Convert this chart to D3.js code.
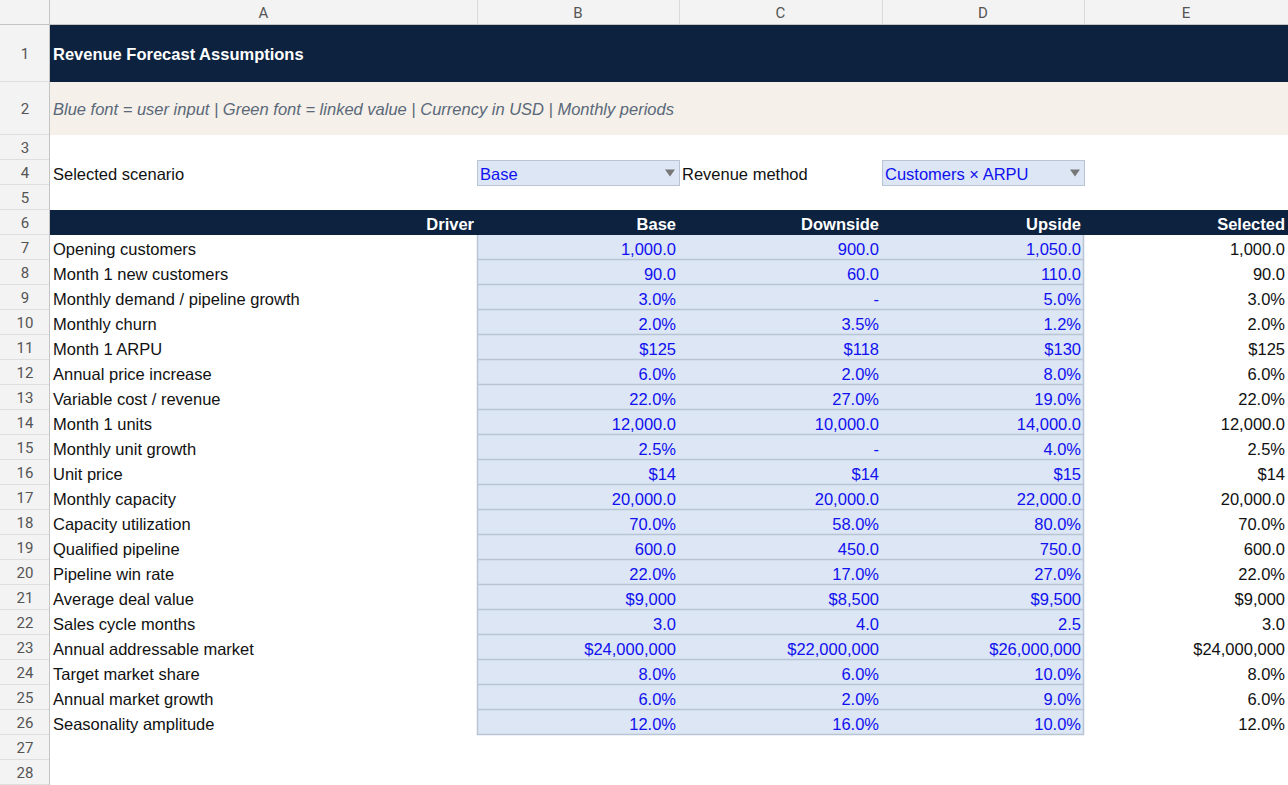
<!DOCTYPE html>
<html>
<head>
<meta charset="utf-8">
<script src="https://cdn.jsdelivr.net/npm/d3@7"></script>
<style>
  html, body { margin: 0; padding: 0; background: #fff; overflow: hidden; }
  svg { display: block; }
</style>
</head>
<body>
<div id="sheet"></div>
<script>
// sheet content
const title = 'Revenue Forecast Assumptions';
const note = 'Blue font = user input | Green font = linked value | Currency in USD | Monthly periods';
const colLetters = ['A', 'B', 'C', 'D', 'E'];
const scenarios = ['Base', 'Downside', 'Upside'];
const selectedScenario = 'Base';
const revenueMethod = 'Customers \u00d7 ARPU';

const drivers = [
  'Opening customers', 'Month 1 new customers', 'Monthly demand / pipeline growth', 'Monthly churn',
  'Month 1 ARPU', 'Annual price increase', 'Variable cost / revenue', 'Month 1 units',
  'Monthly unit growth', 'Unit price', 'Monthly capacity', 'Capacity utilization',
  'Qualified pipeline', 'Pipeline win rate', 'Average deal value', 'Sales cycle months',
  'Annual addressable market', 'Target market share', 'Annual market growth', 'Seasonality amplitude'
];
const formats = [
  'num', 'num', 'pct', 'pct', 'usd', 'pct', 'pct', 'num', 'pct', 'usd',
  'num', 'pct', 'num', 'pct', 'usd', 'num', 'usd', 'pct', 'pct', 'pct'
];
const baseVals = [1000, 90, 0.03, 0.02, 125, 0.06, 0.22, 12000, 0.025, 14,
  20000, 0.70, 600, 0.22, 9000, 3.0, 24000000, 0.08, 0.06, 0.12];
const downVals = [900, 60, 0, 0.035, 118, 0.02, 0.27, 10000, 0, 14,
  20000, 0.58, 450, 0.17, 8500, 4.0, 22000000, 0.06, 0.02, 0.16];
const upVals = [1050, 110, 0.05, 0.012, 130, 0.08, 0.19, 14000, 0.04, 15,
  22000, 0.80, 750, 0.27, 9500, 2.5, 26000000, 0.10, 0.09, 0.10];
const scenarioVals = { Base: baseVals, Downside: downVals, Upside: upVals };
const selectedVals = scenarioVals[selectedScenario];

// layout
const W = 1288, H = 785;
const colWidths = [50, 427, 202, 203, 202, 204];
const rowHeights = [25, 57, 53].concat(d3.range(26).map(() => 25));

const colEdges = d3.cumsum([0].concat(colWidths));
const rowEdges = d3.cumsum([0].concat(rowHeights));
const x0 = i => colEdges[i + 1];           // left edge of column i (0 = A)
const x1 = i => colEdges[i + 2];           // right edge
const y0 = r => rowEdges[r];               // top of sheet row r (1-based)
const yc = r => (rowEdges[r] + rowEdges[r + 1]) / 2;

const navy = '#0d223f';
const inputFill = '#dce6f4';
const inputLine = '#b9c5d5';
const blue = '#1010f0';
const font = '"Liberation Sans", Arial, sans-serif';
const fs = 16.5;
const dy = '0.45em';

const fmtNum = d3.format(',.1f');
const fmtPct = d3.format('.1%');
const fmtUsd = d3.format(',.0f');
const fmt = (v, f) => {
  if (v === 0) return '-';
  if (f === 'pct') return fmtPct(v);
  if (f === 'usd') return '$' + fmtUsd(v);
  return fmtNum(v);
};

const svg = d3.select('#sheet').append('svg')
  .attr('width', W)
  .attr('height', H)
  .attr('viewBox', [0, 0, W, H]);

// data rows scale (rows 7..26)
const yRow = d3.scaleBand()
  .domain(drivers)
  .range([y0(7), y0(27)]);

// column header strip
svg.append('rect').attr('x', 0).attr('y', 0).attr('width', W).attr('height', 25).attr('fill', '#f3f3f3');
svg.append('rect').attr('x', 0).attr('y', 0).attr('width', 50).attr('height', H).attr('fill', '#f3f3f3');

svg.append('g')
  .selectAll('line')
  .data(d3.range(colLetters.length))
  .join('line')
  .attr('x1', i => x1(i) + 0.5).attr('x2', i => x1(i) + 0.5)
  .attr('y1', 0).attr('y2', 25)
  .attr('stroke', '#dadada');

svg.append('g')
  .selectAll('text')
  .data(colLetters)
  .join('text')
  .attr('x', (d, i) => (x0(i) + x1(i)) / 2)
  .attr('y', 12.5)
  .attr('dy', '0.38em')
  .attr('text-anchor', 'middle')
  .attr('fill', '#555')
  .style('font', `15px Roboto, ${font}`)
  .text(d => d);

// row numbers
const rowNums = d3.range(1, rowHeights.length);
svg.append('g')
  .selectAll('line')
  .data(rowNums)
  .join('line')
  .attr('x1', 0).attr('x2', 50)
  .attr('y1', r => rowEdges[r + 1] - 0.5).attr('y2', r => rowEdges[r + 1] - 0.5)
  .attr('stroke', '#dedede');

svg.append('g')
  .selectAll('text')
  .data(rowNums)
  .join('text')
  .attr('x', 25)
  .attr('y', r => yc(r))
  .attr('dy', '0.39em')
  .attr('text-anchor', 'middle')
  .attr('fill', '#555')
  .style('font', `15px Roboto, ${font}`)
  .text(r => r);

svg.append('line').attr('x1', 0).attr('x2', W).attr('y1', 24.5).attr('y2', 24.5).attr('stroke', '#c4c4c4');
svg.append('line').attr('x1', 49.5).attr('x2', 49.5).attr('y1', 0).attr('y2', H).attr('stroke', '#c4c4c4');

// title band
svg.append('rect').attr('x', 50).attr('y', y0(1)).attr('width', W - 50).attr('height', rowHeights[1]).attr('fill', navy);
svg.append('text')
  .attr('x', x0(0) + 3).attr('y', yc(1)).attr('dy', '0.4em')
  .attr('fill', '#fff')
  .style('font', `bold ${fs}px ${font}`)
  .text(title);

// note band
svg.append('rect').attr('x', 50).attr('y', y0(2)).attr('width', W - 50).attr('height', rowHeights[2]).attr('fill', '#f5f0e9');
svg.append('text')
  .attr('x', x0(0) + 3).attr('y', yc(2)).attr('dy', '0.4em')
  .attr('fill', '#5a6879')
  .style('font', `italic ${fs}px ${font}`)
  .text(note);

// selectors in row 4
const selectors = [
  { label: 'Selected scenario', col: 0, value: selectedScenario },
  { label: 'Revenue method', col: 2, value: revenueMethod }
];
const sel = svg.append('g').selectAll('g').data(selectors).join('g');
sel.append('text')
  .attr('x', d => x0(d.col) + 3).attr('y', yc(4)).attr('dy', dy)
  .attr('fill', '#111')
  .style('font', `${fs}px ${font}`)
  .text(d => d.label);
sel.append('rect')
  .attr('x', d => x0(d.col + 1) + 0.5).attr('y', y0(4) + 0.5)
  .attr('width', d => x1(d.col + 1) - x0(d.col + 1)).attr('height', 25)
  .attr('fill', inputFill).attr('stroke', inputLine);
sel.append('text')
  .attr('x', d => x0(d.col + 1) + 3).attr('y', yc(4)).attr('dy', dy)
  .attr('fill', blue)
  .style('font', `${fs}px ${font}`)
  .text(d => d.value);
sel.append('path')
  .attr('d', d => {
    const cx = x1(d.col + 1) - 9, cy = yc(4) + 0.5;
    return `M${cx - 5},${cy - 3.5}L${cx + 5},${cy - 3.5}L${cx},${cy + 3.5}Z`;
  })
  .attr('fill', '#777');

// table header row 6
const headers = ['Driver'].concat(scenarios, ['Selected']);
svg.append('rect').attr('x', 50).attr('y', y0(6)).attr('width', W - 50).attr('height', 25).attr('fill', navy);
svg.append('g')
  .selectAll('text')
  .data(headers)
  .join('text')
  .attr('x', (d, i) => x1(i) - 3)
  .attr('y', yc(6)).attr('dy', dy)
  .attr('text-anchor', 'end')
  .attr('fill', '#fff')
  .style('font', `bold ${fs}px ${font}`)
  .text(d => d);

// input block
const inLeft = x0(1), inRight = x1(3);
svg.append('rect')
  .attr('x', inLeft).attr('y', yRow.range()[0])
  .attr('width', inRight - inLeft).attr('height', yRow.range()[1] - yRow.range()[0])
  .attr('fill', inputFill);
svg.append('g')
  .selectAll('line')
  .data(drivers)
  .join('line')
  .attr('x1', inLeft).attr('x2', inRight)
  .attr('y1', d => yRow(d) + yRow.bandwidth() - 0.5)
  .attr('y2', d => yRow(d) + yRow.bandwidth() - 0.5)
  .attr('stroke', inputLine).attr('stroke-width', 1.5);
svg.append('line').attr('x1', inLeft + 0.5).attr('x2', inLeft + 0.5)
  .attr('y1', yRow.range()[0]).attr('y2', yRow.range()[1]).attr('stroke', inputLine).attr('stroke-width', 1.5);
svg.append('line').attr('x1', inRight - 0.5).attr('x2', inRight - 0.5)
  .attr('y1', yRow.range()[0]).attr('y2', yRow.range()[1]).attr('stroke', inputLine).attr('stroke-width', 1.5);

// rows
const rows = svg.append('g')
  .selectAll('g')
  .data(drivers.map((d, i) => ({
    driver: d, f: formats[i],
    vals: [baseVals[i], downVals[i], upVals[i]], sel: selectedVals[i]
  })))
  .join('g')
  .attr('transform', d => `translate(0,${yRow(d.driver) + yRow.bandwidth() / 2})`)
  .style('font', `${fs}px ${font}`);

rows.append('text')
  .attr('x', x0(0) + 3).attr('dy', dy)
  .attr('fill', '#111')
  .text(d => d.driver);

rows.selectAll('text.v')
  .data(d => d.vals.map(v => ({ v, f: d.f })))
  .join('text')
  .attr('class', 'v')
  .attr('x', (d, i) => x1(i + 1) - 3).attr('dy', dy)
  .attr('text-anchor', 'end')
  .attr('fill', blue)
  .text(d => fmt(d.v, d.f));

rows.append('text')
  .attr('x', x1(4) - 3).attr('dy', dy)
  .attr('text-anchor', 'end')
  .attr('fill', '#111')
  .text(d => fmt(d.sel, d.f));
</script>
</body>
</html>
